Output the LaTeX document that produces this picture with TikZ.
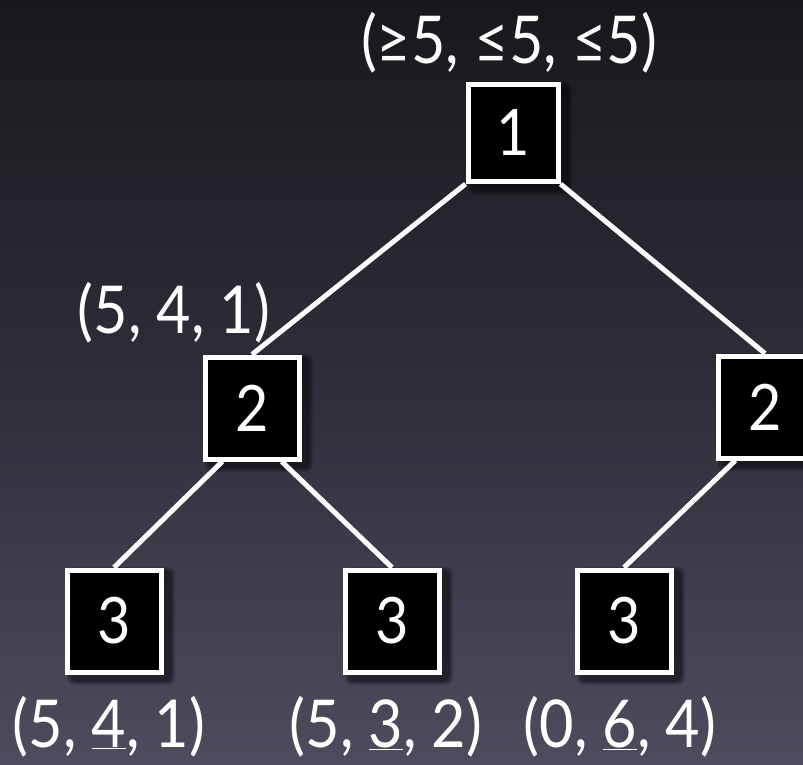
\documentclass[tikz,border=0pt]{standalone}
\usepackage{fontspec}
\setmainfont{Lato}[FakeStretch=0.9]
\usetikzlibrary{calc}
\pgfdeclarelayer{bg}
\pgfdeclarelayer{edges}
\pgfsetlayers{bg,edges,main}
\definecolor{bgtop}{RGB}{24,24,28}
\definecolor{bgmid}{RGB}{46,46,58}
\definecolor{bgbot}{RGB}{76,76,94}
\begin{document}
\begin{tikzpicture}[x=1pt,y=-1pt,
  box/.style={draw=white, fill=black, line width=5pt, minimum width=94pt,
    minimum height=102pt, inner sep=0pt, text=white,
    font=\fontsize{64}{64}\selectfont},
  topbox/.style={box, minimum width=90pt, minimum height=97pt},
  edge/.style={draw=white, line width=5pt},
  shade/.style={fill=black, fill opacity=0.12, rounded corners=6pt},
  lab/.style={text=white, font=\fontsize{66}{66}\selectfont, anchor=base, inner sep=0pt}]
\useasboundingbox (0,0) rectangle (803,764);
\begin{pgfonlayer}{bg}
  \fill[top color=bgtop, bottom color=bgbot, middle color=bgmid] (0,0) rectangle (803,764);
\end{pgfonlayer}

\node[topbox] (n1) at (513,133) {1};
\node[box] (n2a) at (252,408) {2};
\node[box] (n2b) at (765,407) {2};
\node[box] (n3a) at (114,621) {3};
\node[box] (n3b) at (392,621) {3};
\node[box] (n3c) at (624,621) {3};

\begin{pgfonlayer}{edges}
  \foreach \n in {n1,n2a,n2b,n3a,n3b,n3c}{
    \foreach \s in {1,3,5,7,9}{
      \fill[shade] ($(\n.north west)+(5-\s/2+2,2-\s/2+2)$) rectangle ($(\n.south east)+(5+\s/2+2,2+\s/2+4)$);
    }
  }
  \draw[edge] (n1.south west) -- (n2a.north);
  \draw[edge] (n1.south east) -- (n2b.north);
  \draw[edge] ($(n2a.south west)!0.2!(n2a.south east)$) -- (n3a.north);
  \draw[edge] ($(n2a.south west)!0.8!(n2a.south east)$) -- (n3b.north);
  \draw[edge] ($(n2b.south west)!0.2!(n2b.south east)$) -- (n3c.north);
\end{pgfonlayer}

\node[lab] (l1) at (509,63) {(≥5, ≤5, ≤5)};
\node[lab] (l2) at (174,333) {(5, 4, 1)};
\node[lab] (l3a) at (109,747) {(5, \underline{4}, 1)};
\node[lab] (l3b) at (386,747) {(5, \underline{3}, 2)};
\node[lab] (l3c) at (620,747) {(0, \underline{6}, 4)};
\end{tikzpicture}
\end{document}
